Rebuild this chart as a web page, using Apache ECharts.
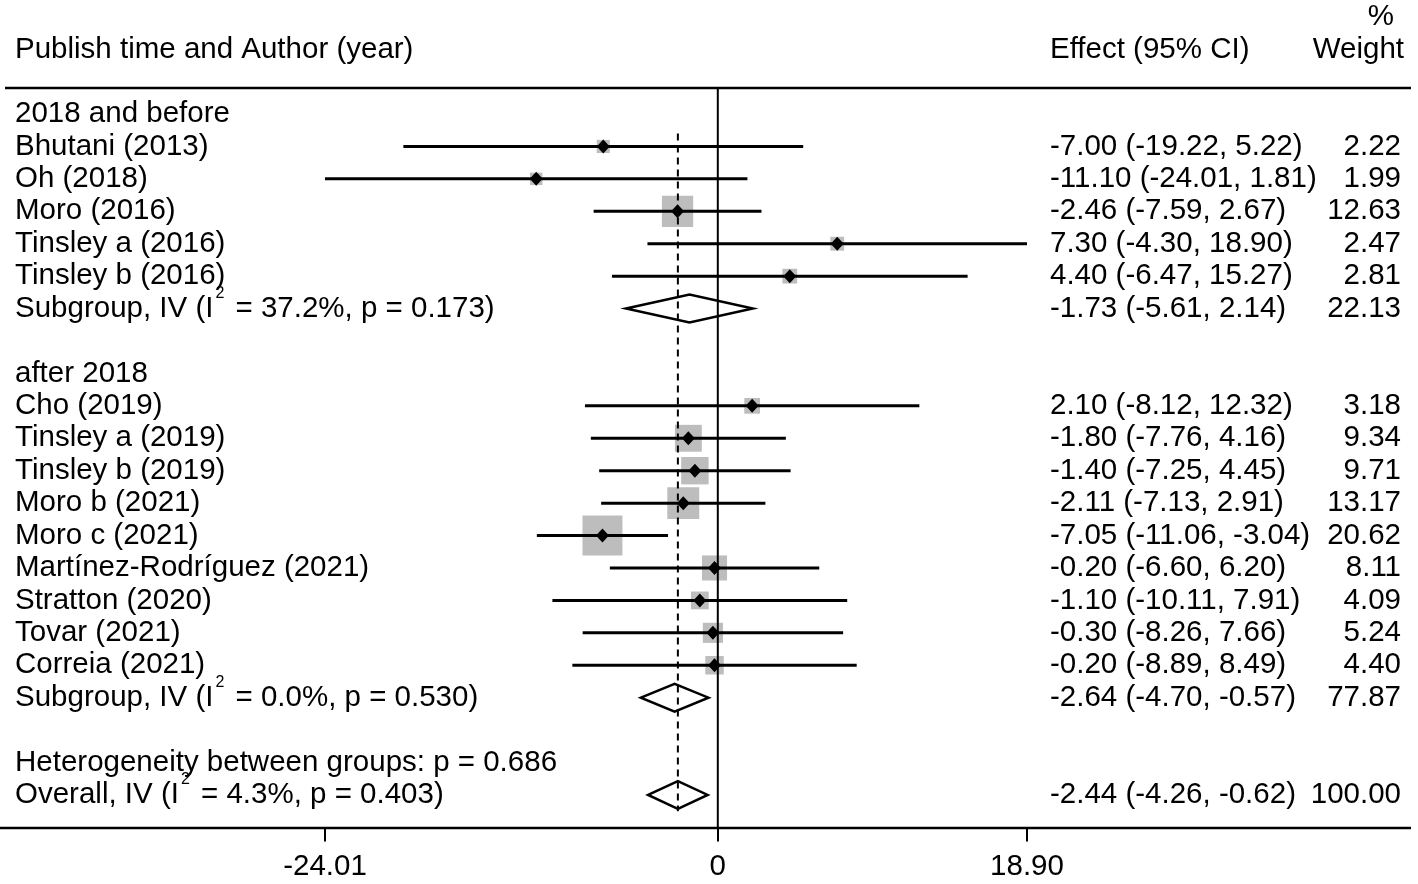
<!DOCTYPE html>
<html>
  <head>
    <meta charset="utf-8" />
    <title>Forest plot</title>
    <script src="https://cdn.jsdelivr.net/npm/echarts@6/dist/echarts.min.js"></script>
    <style>
      html, body { margin: 0; padding: 0; background: #fff; }
    </style>
  </head>
  <body>
    <div id="main" style="width: 1418px;height:884px;"></div>
    <script type="text/javascript">
      // row labels, top to bottom (empty = spacer row)
      var rowNames = [
        '2018 and before',
        'Bhutani (2013)',
        'Oh (2018)',
        'Moro (2016)',
        'Tinsley a (2016)',
        'Tinsley b (2016)',
        'Subgroup, IV (I² = 37.2%, p = 0.173)',
        '',
        'after 2018',
        'Cho (2019)',
        'Tinsley a (2019)',
        'Tinsley b (2019)',
        'Moro b (2021)',
        'Moro c (2021)',
        'Martínez-Rodríguez (2021)',
        'Stratton (2020)',
        'Tovar (2021)',
        'Correia (2021)',
        'Subgroup, IV (I² = 0.0%, p = 0.530)',
        '',
        'Heterogeneity between groups: p = 0.686',
        'Overall, IV (I² = 4.3%, p = 0.403)'
      ];

      // individual studies
      var studyRows   = [1, 2, 3, 4, 5, 9, 10, 11, 12, 13, 14, 15, 16, 17];
      var studyEst    = [-7.00, -11.10, -2.46, 7.30, 4.40, 2.10, -1.80, -1.40, -2.11, -7.05, -0.20, -1.10, -0.30, -0.20];
      var studyLo     = [-19.22, -24.01, -7.59, -4.30, -6.47, -8.12, -7.76, -7.25, -7.13, -11.06, -6.60, -10.11, -8.26, -8.89];
      var studyHi     = [5.22, 1.81, 2.67, 18.90, 15.27, 12.32, 4.16, 4.45, 2.91, -3.04, 6.20, 7.91, 7.66, 8.49];
      var studyWeight = [2.22, 1.99, 12.63, 2.47, 2.81, 3.18, 9.34, 9.71, 13.17, 20.62, 8.11, 4.09, 5.24, 4.40];

      // pooled estimates (subgroups + overall)
      var poolRows   = [6, 18, 21];
      var poolEst    = [-1.73, -2.64, -2.44];
      var poolLo     = [-5.61, -4.70, -4.26];
      var poolHi     = [2.14, -0.57, -0.62];
      var poolWeight = [22.13, 77.87, 100.00];

      var xTicks = [-24.01, 0, 18.90];
      var overallEst = -2.44;

      var FONT = 'Liberation Sans, Arial, sans-serif';
      var FS = 29.5;

      // text for the right-hand columns, keyed by row
      var effectText = {};
      var weightText = {};
      studyRows.forEach(function (r, i) {
        effectText[r] = studyEst[i].toFixed(2) + ' (' + studyLo[i].toFixed(2) + ', ' + studyHi[i].toFixed(2) + ')';
        weightText[r] = studyWeight[i].toFixed(2);
      });
      poolRows.forEach(function (r, i) {
        effectText[r] = poolEst[i].toFixed(2) + ' (' + poolLo[i].toFixed(2) + ', ' + poolHi[i].toFixed(2) + ')';
        weightText[r] = poolWeight[i].toFixed(2);
      });

      var boxData = studyRows.map(function (r, i) { return [studyEst[i], r, studyWeight[i]]; });
      var pointData = studyRows.map(function (r, i) { return [studyEst[i], r]; });
      var ciData = studyRows.map(function (r, i) { return [studyLo[i], studyHi[i], r]; });
      var diamondData = poolRows.map(function (r, i) { return [poolLo[i], poolEst[i], poolHi[i], r]; });

      var myChart = echarts.init(document.getElementById('main'));

      function rowAxis(extra) {
        var ax = {
          type: 'value',
          inverse: true,
          min: -1,
          max: 22,
          interval: 1,
          axisLine: { show: false },
          axisTick: { show: false },
          splitLine: { show: false }
        };
        for (var k in extra) ax[k] = extra[k];
        return ax;
      }

      var option = {
        animation: false,
        backgroundColor: '#fff',
        textStyle: { fontFamily: FONT, color: '#000' },
        grid: {
          left: 325,
          right: 391,
          top: 81.57,
          bottom: 56.6,
          containLabel: false,
          outerBoundsMode: 'none'
        },
        xAxis: {
          type: 'value',
          min: -24.01,
          max: 18.90,
          axisLine: { show: false, onZero: false },
          splitLine: { show: false },
          axisTick: {
            show: true,
            customValues: xTicks,
            length: 14,
            lineStyle: { color: '#000', width: 2 }
          },
          axisLabel: {
            customValues: xTicks,
            margin: 24,
            fontSize: FS,
            fontFamily: FONT,
            color: '#000',
            formatter: function (v) { return v === 0 ? '0' : v.toFixed(2); }
          }
        },
        yAxis: [
          rowAxis({
            position: 'left',
            axisLabel: {
              align: 'left',
              margin: 310,
              formatter: function (v) {
                var s = rowNames[v];
                if (!s) return '';
                return '{n|' + s.replace('²', '}{s|2}{n|') + '}';
              },
              rich: {
                n: { fontSize: FS, fontFamily: FONT, color: '#000', lineHeight: 46 },
                s: { fontSize: 16, fontFamily: FONT, color: '#000', verticalAlign: 'top', lineHeight: 16, padding: [0, 3, 0, 2] }
              }
            }
          }),
          rowAxis({
            position: 'right',
            offset: 0,
            axisLabel: {
              align: 'left',
              margin: 23,
              fontSize: FS,
              fontFamily: FONT,
              color: '#000',
              formatter: function (v) { return effectText[v] || ''; }
            }
          }),
          rowAxis({
            position: 'right',
            offset: 0,
            axisLabel: {
              align: 'right',
              margin: 374,
              fontSize: FS,
              fontFamily: FONT,
              color: '#000',
              formatter: function (v) { return weightText[v] || ''; }
            }
          })
        ],
        graphic: [
          { type: 'line', shape: { x1: 5, y1: 88, x2: 1411, y2: 88 }, style: { stroke: '#000', lineWidth: 2.5 } },
          { type: 'line', shape: { x1: 0, y1: 828, x2: 1411, y2: 828 }, style: { stroke: '#000', lineWidth: 2.5 } },
          { type: 'text', x: 15, y: 50, style: { text: 'Publish time and Author (year)', font: FS + 'px ' + FONT, fill: '#000', textVerticalAlign: 'middle' } },
          { type: 'text', x: 1050, y: 50, style: { text: 'Effect (95% CI)', font: FS + 'px ' + FONT, fill: '#000', textVerticalAlign: 'middle' } },
          { type: 'text', x: 1404, y: 50, style: { text: 'Weight', font: FS + 'px ' + FONT, fill: '#000', textAlign: 'right', textVerticalAlign: 'middle' } },
          { type: 'text', x: 1394, y: 17, style: { text: '%', font: FS + 'px ' + FONT, fill: '#000', textAlign: 'right', textVerticalAlign: 'middle' } }
        ],
        series: [
          {
            // weight boxes, area proportional to weight
            type: 'scatter',
            name: 'weight',
            z: 1,
            symbol: 'rect',
            symbolSize: function (d) { return Math.sqrt(d[2]) * 8.8; },
            itemStyle: { color: '#bdbdbd', opacity: 1 },
            data: boxData
          },
          {
            // null line at 0
            type: 'custom',
            name: 'zero',
            z: 2,
            data: [[0, -0.8, 22]],
            renderItem: function (params, api) {
              var a = api.coord([api.value(0), api.value(1)]);
              var b = api.coord([api.value(0), api.value(2)]);
              return { type: 'line', shape: { x1: a[0], y1: a[1], x2: b[0], y2: b[1] }, style: { stroke: '#000', lineWidth: 2 } };
            }
          },
          {
            // overall estimate reference line
            type: 'custom',
            name: 'overall line',
            z: 2,
            data: [[overallEst, 0.6, 21.5]],
            renderItem: function (params, api) {
              var a = api.coord([api.value(0), api.value(1)]);
              var b = api.coord([api.value(0), api.value(2)]);
              return { type: 'line', shape: { x1: a[0], y1: a[1], x2: b[0], y2: b[1] }, style: { stroke: '#000', lineWidth: 2, lineDash: [7, 5] } };
            }
          },
          {
            // confidence intervals
            type: 'custom',
            name: 'ci',
            z: 3,
            data: ciData,
            encode: { x: [0, 1], y: 2 },
            renderItem: function (params, api) {
              var a = api.coord([api.value(0), api.value(2)]);
              var b = api.coord([api.value(1), api.value(2)]);
              return { type: 'line', shape: { x1: a[0], y1: a[1], x2: b[0], y2: b[1] }, style: { stroke: '#000', lineWidth: 3 } };
            }
          },
          {
            // point estimates
            type: 'scatter',
            name: 'estimate',
            z: 4,
            symbol: 'diamond',
            symbolSize: [13, 14],
            itemStyle: { color: '#000', opacity: 1 },
            data: pointData
          },
          {
            // pooled diamonds
            type: 'custom',
            name: 'pooled',
            z: 4,
            data: diamondData,
            encode: { x: [0, 1, 2], y: 3 },
            renderItem: function (params, api) {
              var row = api.value(3);
              var l = api.coord([api.value(0), row]);
              var m = api.coord([api.value(1), row]);
              var r = api.coord([api.value(2), row]);
              var h = api.size([0, 0.43])[1];
              return {
                type: 'polygon',
                shape: { points: [[l[0], l[1]], [m[0], m[1] - h], [r[0], r[1]], [m[0], m[1] + h]] },
                style: { fill: 'rgba(255,255,255,0)', stroke: '#000', lineWidth: 2.5 }
              };
            }
          }
        ]
      };

      myChart.setOption(option);
    </script>
  </body>
</html>
